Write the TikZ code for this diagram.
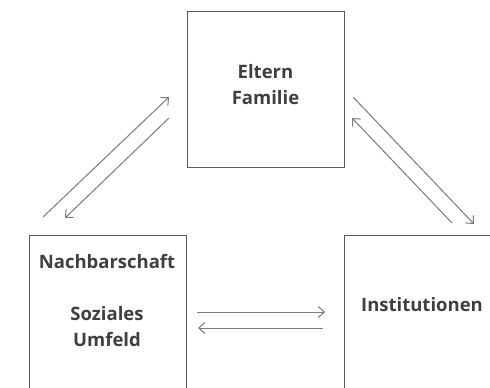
\documentclass[tikz,border=0pt]{standalone}
\usepackage{fontspec}
\setmainfont{Open Sans}
\usetikzlibrary{arrows.meta}
\definecolor{boxline}{HTML}{595959}
\definecolor{arrowline}{HTML}{7A7A7A}
\definecolor{txtcol}{HTML}{3F3F3F}
\begin{document}
\begin{tikzpicture}[x=1bp,y=-1bp,
  box/.style={draw=boxline, line width=1.4bp, minimum width=157bp, minimum height=156bp, inner sep=0, anchor=north west},
  lbl/.style={font=\bfseries\fontsize{18.5bp}{26bp}\selectfont, text=txtcol, align=center, inner sep=0},
  conn/.style={draw=arrowline, line width=1bp, -{Straight Barb[length=6bp,width=11bp]}}]
\useasboundingbox (0,0) rectangle (490,387);
\clip (0,0) rectangle (490,387);
\node[box] (fam) at (187,11) {};
\node[box, minimum height=175bp] (nach) at (29,235) {};
\node[box, minimum height=175bp] (inst) at (344,235) {};
\node[lbl] (tfam) at (265.5,85) {Eltern\\Familie};
\node[lbl] (tnach) at (107,301) {Nachbarschaft\\[26bp]Soziales\\Umfeld};
\node[lbl] (tinst) at (422,305) {Institutionen};
\coordinate (a1s) at (43,217);  \coordinate (a1e) at (169,97);
\coordinate (a2s) at (169,118); \coordinate (a2e) at (65,218);
\coordinate (a3s) at (353,97);  \coordinate (a3e) at (474,224);
\coordinate (a4s) at (452,223); \coordinate (a4e) at (352,118);
\coordinate (a5s) at (197,312); \coordinate (a5e) at (325,312);
\coordinate (a6s) at (323,328); \coordinate (a6e) at (198,328);
\draw[conn] (a1s) -- (a1e);
\draw[conn] (a2s) -- (a2e);
\draw[conn] (a3s) -- (a3e);
\draw[conn] (a4s) -- (a4e);
\draw[conn] (a5s) -- (a5e);
\draw[conn] (a6s) -- (a6e);
\end{tikzpicture}
\end{document}
